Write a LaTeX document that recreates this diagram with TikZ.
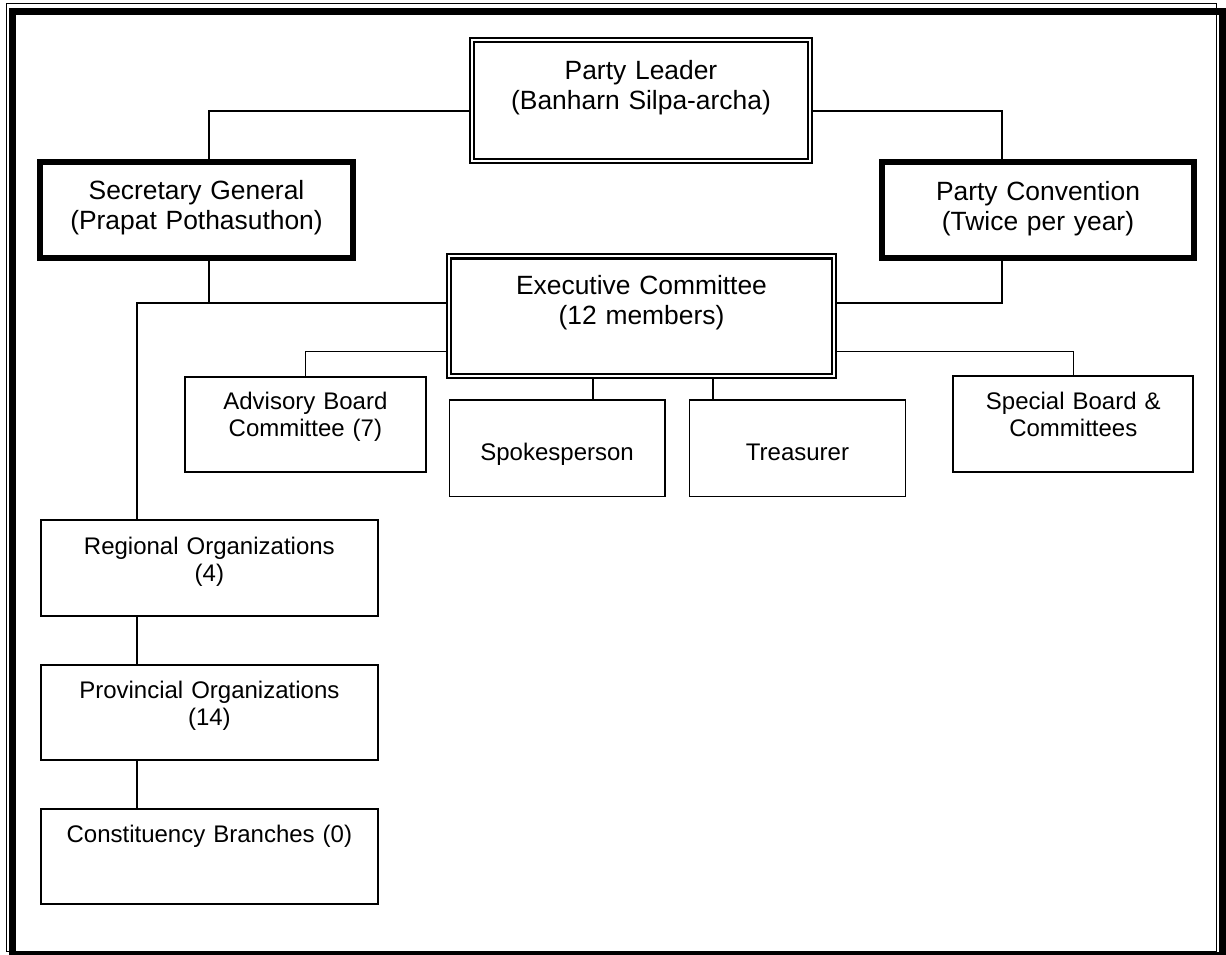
\documentclass[tikz,border=0pt]{standalone}
\usepackage{fontspec}
\setmainfont{Liberation Sans}
\usetikzlibrary{backgrounds}
\tikzset{
  link/.style={line width=1.3pt},
  bigfont/.style={font=\fontsize{26.4}{30}\selectfont},
  smallfont/.style={font=\fontsize{24}{27}\selectfont},
  orgbox/.style={draw, rectangle, inner sep=0pt, align=center, anchor=north},
  leaderbox/.style={orgbox, bigfont, double, line width=2.2pt, double distance=2pt},
  thickbox/.style={orgbox, bigfont, line width=6pt},
  unitbox/.style={orgbox, smallfont, line width=2pt},
  thinbox/.style={orgbox, smallfont, line width=1.3pt}
}
\begin{document}
\begin{tikzpicture}[x=1pt, y=-1pt]
\useasboundingbox (0,0) rectangle (1226,955);
\draw[line width=1pt] (6.5,3.8) rectangle (1216.8,951.2);
\draw[line width=7pt] (12.5,11.5) rectangle (1222,955.5);
\node[leaderbox, text width=337.6pt, text height=38.8pt, text depth=81.8pt] (leader) at (641,39.2){Party Leader\\(Banharn Silpa-archa)};
\node[thickbox, text width=313pt, text height=37pt, text depth=58.7pt] (secgen) at (196.5,159){Secretary General\\(Prapat Pothasuthon)};
\node[thickbox, text width=311.5pt, text height=38pt, text depth=57.5pt] (conv) at (1038,159){Party Convention\\(Twice per year)};
\node[leaderbox, text width=384.6pt, text height=37.8pt, text depth=82pt] (exec) at (641.5,255.2){Executive Committee\\(12 members)};
\node[unitbox, text width=240.2pt, text height=32pt, text depth=63pt] (advisory) at (305.4,376){Advisory Board\\Committee (7)};
\node[thinbox, text width=215.8pt, text height=60.7pt, text depth=35.6pt] (spokes) at (557.1,399.3){Spokesperson};
\node[thinbox, text width=216.4pt, text height=60.7pt, text depth=35.7pt] (treas) at (797.5,399.3){Treasurer};
\node[unitbox, text width=240pt, text height=32.7pt, text depth=63.3pt] (special) at (1073.3,375.3){Special Board \&\\Committees};
\node[unitbox, text width=336.7pt, text height=33.7pt, text depth=62pt] (regional) at (209.35,519.3){Regional Organizations\\(4)};
\node[unitbox, text width=336.7pt, text height=33.3pt, text depth=62.3pt] (provincial) at (209.35,663.7){Provincial Organizations\\(14)};
\node[unitbox, text width=336.7pt, text height=33.3pt, text depth=62.3pt] (constit) at (209.35,807.7){Constituency Branches (0)};
\coordinate (toprail) at (0,111);
\coordinate (midrail) at (0,303);
\coordinate (lowrail) at (0,351.5);
\coordinate (secdrop) at (209,0);
\coordinate (convdrop) at (1002,0);
\coordinate (regdrop) at (137,0);
\coordinate (spokedrop) at (593,0);
\coordinate (treasdrop) at (713,0);
\begin{pgfonlayer}{background}
\draw[link] (leader.west |- toprail) -| (secdrop |- secgen.north);
\draw[link] (leader.east |- toprail) -| (convdrop |- conv.north);
\draw[link] (secdrop |- secgen.south) -- (secdrop |- midrail);
\draw[link] (regdrop |- regional.north) |- (exec.west |- midrail);
\draw[link] (convdrop |- conv.south) |- (exec.east |- midrail);
\draw[link] (exec.west |- lowrail) -| (advisory.north);
\draw[link] (exec.east |- lowrail) -| (special.north);
\draw[link] (spokedrop |- exec.south) -- (spokedrop |- spokes.north);
\draw[link] (treasdrop |- exec.south) -- (treasdrop |- treas.north);
\draw[link] (regdrop |- regional.south) -- (regdrop |- provincial.north);
\draw[link] (regdrop |- provincial.south) -- (regdrop |- constit.north);
\end{pgfonlayer}
\end{tikzpicture}
\end{document}
